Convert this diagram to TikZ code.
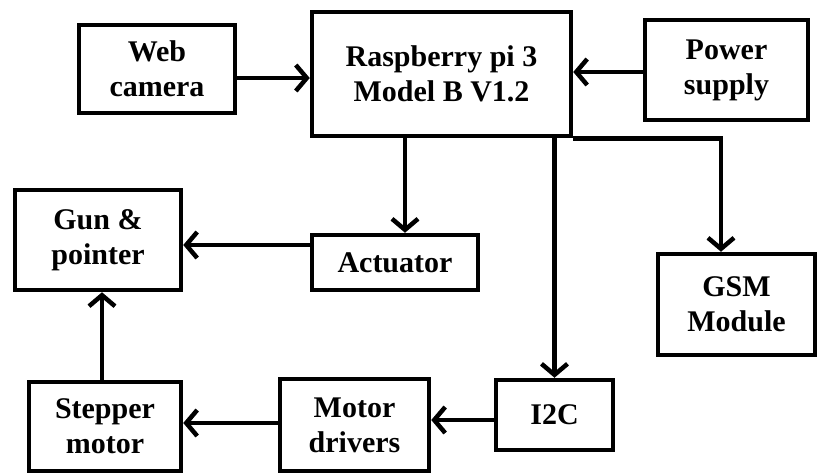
\documentclass[tikz,border=0pt]{standalone}
\usepackage{fontspec}
\setmainfont{Liberation Serif}
\usetikzlibrary{arrows.meta}
\tikzset{
  box/.style={draw=black, line width=4.5pt, rectangle, align=center, inner sep=0pt,
    font=\fontsize{30}{35}\selectfont\bfseries},
  arr/.style={line width=4.5pt, -{Straight Barb[length=11pt,width=26pt,line width=4.5pt]}}
}
\begin{document}
\begin{tikzpicture}[x=1pt,y=-1pt]
\useasboundingbox[fill=white] (0,0) rectangle (817,475);
\node[box, minimum width=156pt, minimum height=88pt] (web) at (157,69) {Web\\camera};
\node[box, minimum width=259pt, minimum height=124pt] (rpi) at (441.5,74) {Raspberry pi 3\\Model B V1.2};
\node[box, minimum width=163pt, minimum height=100pt] (power) at (726.5,70) {Power\\supply};
\node[box, minimum width=166pt, minimum height=100pt] (gun) at (98,240) {Gun \&\\pointer};
\node[box, minimum width=166pt, minimum height=55pt] (act) at (395,262.5) {Actuator};
\node[box, minimum width=157pt, minimum height=101pt] (gsm) at (736.5,304.5) {GSM\\Module};
\node[box, minimum width=117pt, minimum height=70pt] (i2c) at (554.5,415) {I2C};
\node[box, minimum width=149pt, minimum height=92pt] (md) at (354.5,425) {Motor\\drivers};
\node[box, minimum width=152pt, minimum height=89pt] (step) at (105,426.5) {Stepper\\motor};

\draw[arr] (web.east |- 0,78) -- (rpi.west |- 0,78);
\draw[arr] (power.west |- 0,72) -- (rpi.east |- 0,72);
\draw[arr] (rpi.south -| 405,0) -- (act.north -| 405,0);
\draw[arr] (rpi.south -| i2c.north) -- (i2c.north);
\draw[arr] (rpi.south east) -| (gsm.north -| 721,0);
\draw[arr] (act.west |- 0,245) -- (gun.east |- 0,245);
\draw[arr] (step.north -| 102,0) -- (gun.south -| 102,0);
\draw[arr] (md.west |- 0,423) -- (step.east |- 0,423);
\draw[arr] (i2c.west |- 0,420) -- (md.east |- 0,420);
\end{tikzpicture}
\end{document}
